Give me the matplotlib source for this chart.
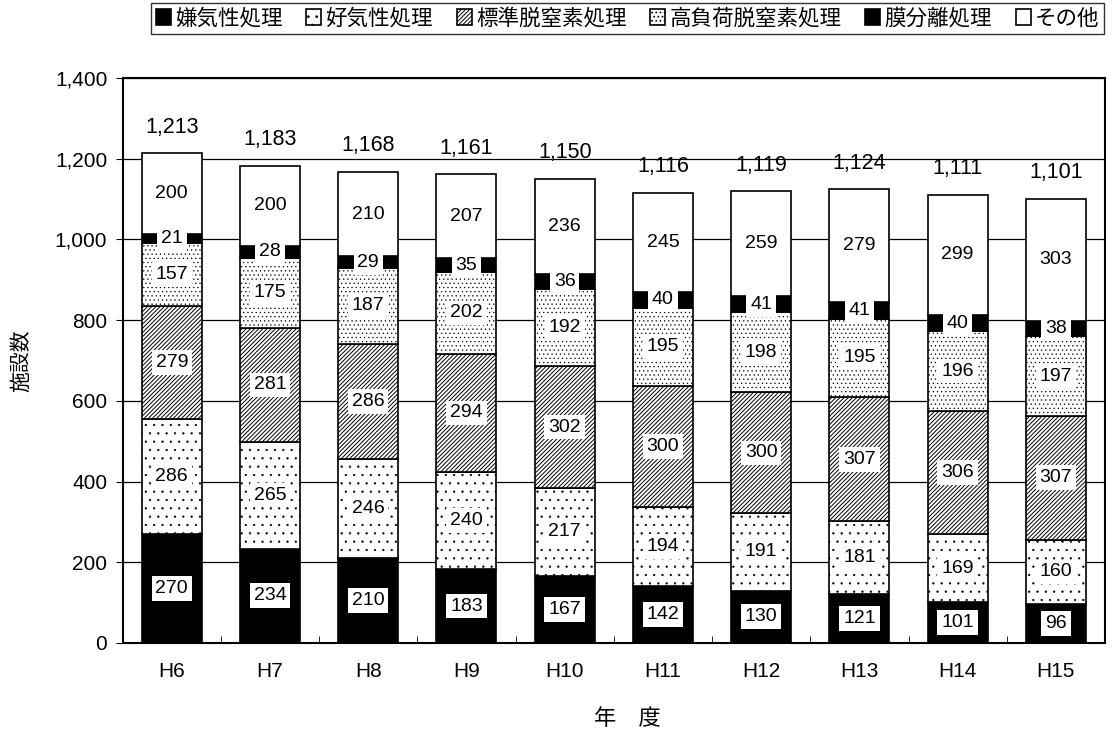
import matplotlib
matplotlib.use("Agg")
import matplotlib.pyplot as plt
from matplotlib.ticker import FuncFormatter, MultipleLocator

plt.rcParams['font.family'] = ['Noto Sans CJK JP', 'DejaVu Sans']
plt.rcParams['hatch.linewidth'] = 0.7

years = ["H6", "H7", "H8", "H9", "H10", "H11", "H12", "H13", "H14", "H15"]
anaerobic = [270, 234, 210, 183, 167, 142, 130, 121, 101, 96]
aerobic = [286, 265, 246, 240, 217, 194, 191, 181, 169, 160]
standard = [279, 281, 286, 294, 302, 300, 300, 307, 306, 307]
highload = [157, 175, 187, 202, 192, 195, 198, 195, 196, 197]
membrane = [21, 28, 29, 35, 36, 40, 41, 41, 40, 38]
other = [200, 200, 210, 207, 236, 245, 259, 279, 299, 303]

series = [
    ("嫌気性処理", anaerobic, "black", ""),
    ("好気性処理", aerobic, "white", ".."),
    ("標準脱窒素処理", standard, "white", "////////"),
    ("高負荷脱窒素処理", highload, "white", "...."),
    ("膜分離処理", membrane, "black", ""),
    ("その他", other, "white", ""),
]
num_font = ['Liberation Sans', 'DejaVu Sans']

fig = plt.figure(figsize=(11.15, 7.32), dpi=100)
ax = fig.add_axes([0.110, 0.1216, 0.881, 0.7718])

x = list(range(len(years)))
bottom = [0] * len(years)
handles = []
for name, vals, color, hatch in series:
    b = ax.bar(x, vals, 0.61, bottom=bottom, color=color, edgecolor="black",
               hatch=hatch, linewidth=1.2, label=name, zorder=3)
    if hatch.startswith("."):
        for p in b.patches:
            p.set_hatch_linewidth(0.4)
    handles.append(b)
    for i, v in enumerate(vals):
        ax.text(x[i], bottom[i] + v / 2, str(v), ha="center", va="center",
                fontsize=14, family=num_font, zorder=5,
                bbox=dict(boxstyle="square,pad=0.2", fc="white", ec="none"))
    bottom = [bottom[i] + vals[i] for i in range(len(vals))]

for i, t in enumerate(bottom):
    ax.annotate(f"{t:,}", (x[i], t), xytext=(0, 19), textcoords="offset points",
                ha="center", va="center", fontsize=15.5, family=num_font)

ax.set_ylim(0, 1400)
ax.set_xlim(-0.5, len(years) - 0.5)
ax.yaxis.set_major_locator(MultipleLocator(200))
ax.yaxis.set_major_formatter(FuncFormatter(lambda v, p: f"{int(v):,}"))
ax.grid(axis="y", color="black", linewidth=0.9, zorder=0)
ax.set_xticks(x)
ax.set_xticklabels(years)
ax.tick_params(axis="x", length=0, pad=14, labelsize=15)
ax.tick_params(axis="y", length=5, labelsize=15, direction="out", pad=6)
for lab in ax.get_xticklabels() + ax.get_yticklabels():
    lab.set_family(num_font)
ax.set_xticks([i + 0.5 for i in x[:-1]], minor=True)
ax.tick_params(axis="x", which="minor", length=5, direction="in")
for s in ax.spines.values():
    s.set_linewidth(1.5)
    s.set_color("black")

ax.set_ylabel("施設数", fontsize=15)
ax.yaxis.set_label_coords(-0.092, 0.5)
ax.set_xlabel("年　度", fontsize=16)
ax.xaxis.set_label_coords(0.514, -0.113)

leg = fig.legend(handles=handles, loc="upper right", bbox_to_anchor=(0.993, 1.0),
                 ncol=6, fontsize=15.5, frameon=True, fancybox=False,
                 edgecolor="black", handlelength=0.7, handleheight=0.7,
                 handletextpad=0.2, columnspacing=1.1, borderpad=0.2,
                 borderaxespad=0.15)
leg.get_frame().set_linewidth(1.0)

fig.savefig("out.png", dpi=100)
